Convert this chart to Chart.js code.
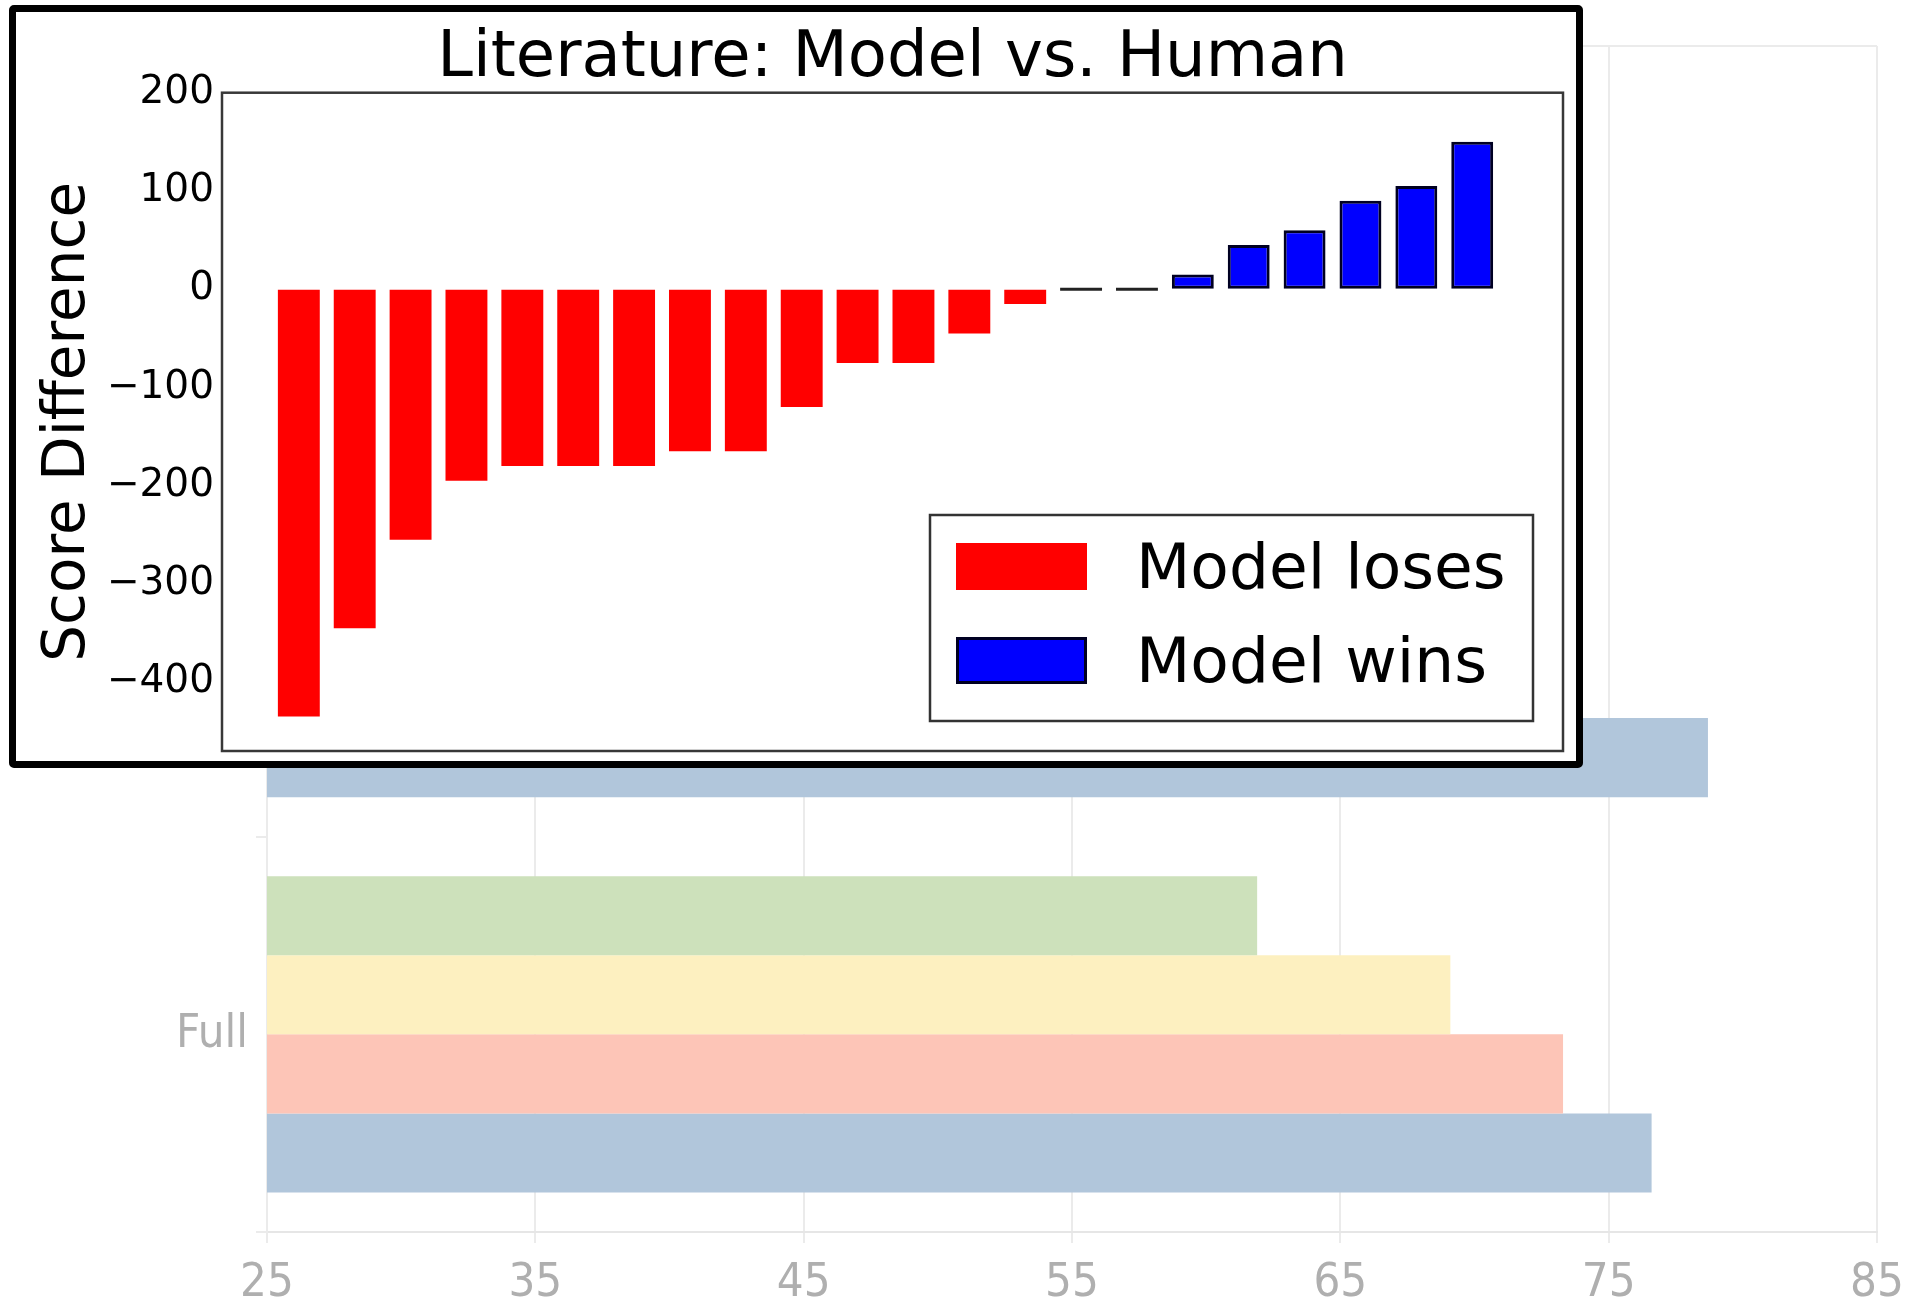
<!DOCTYPE html>
<html>
<head>
<meta charset="utf-8">
<script src="https://cdn.jsdelivr.net/npm/chart.js@4/dist/chart.umd.min.js"></script>
<style>
  html, body { margin: 0; padding: 0; background: #fff; overflow: hidden; }
  #bgWrap { position: absolute; left: 0; top: 0; width: 1913px; height: 1303px; }
  #inset { position: absolute; left: 9px; top: 5px; width: 1574px; height: 763px; box-sizing: border-box;
           border: 7px solid #000; border-radius: 5px; background: #fff; }
  #inset canvas { position: absolute; left: 0; top: 0; }
</style>
</head>
<body>
<div id="bgWrap"><canvas id="bg" width="1913" height="1303"></canvas></div>
<div id="inset"><canvas id="lit" width="1560" height="749"></canvas></div>
<script>
// ---------- Background chart data (horizontal bars) ----------
// The labels and most bars of the first two groups are hidden behind the inset and cannot be read.
const bgCategories = ['', '', 'Full'];
const bgSeriesNames = ['Series 1', 'Series 2', 'Series 3', 'Series 4'];
const bgSeries1 = [null, null, 61.9];   // green
const bgSeries2 = [null, null, 69.1];   // yellow
const bgSeries3 = [null, null, 73.3];   // pink
const bgSeries4 = [null, 78.7, 76.6];   // blue
const bgTickMin = 25, bgTickMax = 85, bgTickStep = 10;

// ---------- Inset chart data ----------
const insetTitle = 'Literature: Model vs. Human';
const insetYLabel = 'Score Difference';
const insetSeriesNames = ['Model loses', 'Model wins'];
const insetValues = [-435, -345, -255, -195, -180, -180, -180, -165, -165, -120, -75, -75, -45, -15,
                     0, 0, 15, 45, 60, 90, 105, 150];
const insetYMin = -470, insetYMax = 200, insetYStep = 100;

// ---------- Background chart ----------
const GRAY_TXT = '#afafaf';
const GRID = '#ebebeb';
const BG_FAMILY = "'Liberation Sans Narrow', 'DejaVu Sans Condensed', Lato, sans-serif";
const bgColors = ['#cde1bb', '#fdf0c0', '#fdc5b7', '#b1c6db'];

const topBorderPlugin = {
  id: 'topBorder',
  beforeDatasetsDraw(chart) {
    const { ctx, chartArea: a } = chart;
    ctx.save();
    ctx.strokeStyle = GRID; ctx.lineWidth = 2;
    ctx.beginPath(); ctx.moveTo(a.left, a.top); ctx.lineTo(a.right, a.top); ctx.stroke();
    ctx.restore();
  }
};

new Chart(document.getElementById('bg'), {
  type: 'bar',
  data: {
    labels: bgCategories,
    datasets: [bgSeries1, bgSeries2, bgSeries3, bgSeries4].map((d, i) => ({
      label: bgSeriesNames[i], data: d, backgroundColor: bgColors[i], borderWidth: 0,
      categoryPercentage: 0.8, barPercentage: 1.0
    }))
  },
  options: {
    indexAxis: 'y', responsive: false, animation: false,
    layout: { padding: { top: 46, right: 36, left: 0, bottom: 0 } },
    plugins: { legend: { display: false }, tooltip: { enabled: false }, title: { display: false } },
    scales: {
      x: {
        type: 'linear', min: bgTickMin, max: bgTickMax,
        ticks: { stepSize: bgTickStep, color: GRAY_TXT, padding: 0, maxRotation: 0,
                 font: { family: BG_FAMILY, size: 47, lineHeight: 1.75 } },
        grid: { color: GRID, lineWidth: 2, tickLength: 11 },
        border: { color: '#e6e6e6', width: 2 },
        afterFit(s) { s.height = 71; }
      },
      y: {
        ticks: { color: GRAY_TXT, padding: 8, font: { family: BG_FAMILY, size: 47, lineHeight: 1.2 } },
        grid: { drawOnChartArea: false, tickLength: 11, color: GRID, lineWidth: 2, offset: true },
        border: { color: GRID, width: 2 },
        afterFit(s) { s.width = 267; }
      }
    }
  },
  plugins: [topBorderPlugin]
});

// ---------- Inset chart ----------
const DJV = "'DejaVu Sans', 'Bitstream Vera Sans', sans-serif";
const BAR_W = 0.75; // bar width in index units (bars start at integer positions)
const losesPts = [], winsPts = [];
insetValues.forEach((v, i) => {
  const p = { x: i + BAR_W / 2, y: v };
  if (v < 0) losesPts.push(p); else winsPts.push(p);
});

const framePlugin = {
  id: 'frameAndLegend',
  afterDatasetsDraw(chart) {
    const { ctx } = chart;
    // zero-height bars are shown as their edge line at 0
    chart.data.datasets.forEach((ds, di) => {
      if (!ds.borderWidth) return;
      const meta = chart.getDatasetMeta(di);
      meta.data.forEach((el, j) => {
        if (ds.data[j].y === 0) {
          const p = el.getProps(['x', 'y', 'width'], true);
          ctx.save();
          ctx.strokeStyle = '#222'; ctx.lineWidth = 3;
          ctx.beginPath(); ctx.moveTo(p.x - p.width / 2, p.y); ctx.lineTo(p.x + p.width / 2, p.y); ctx.stroke();
          ctx.restore();
        }
      });
    });
  },
  afterDraw(chart) {
    const { ctx, chartArea: a } = chart;
    ctx.save();
    ctx.strokeStyle = '#383838'; ctx.lineWidth = 2.5;
    ctx.strokeRect(a.left, a.top, a.right - a.left, a.bottom - a.top);
    // legend box (lower right)
    const w = 603, h = 206;
    const x0 = a.right - 30 - w, y0 = a.bottom - 30 - h;
    ctx.fillStyle = '#fff'; ctx.fillRect(x0, y0, w, h);
    ctx.strokeStyle = '#333'; ctx.lineWidth = 2.5; ctx.strokeRect(x0, y0, w, h);
    chart.data.datasets.forEach((ds, i) => {
      const sy = y0 + 28 + i * 94;
      ctx.fillStyle = ds.backgroundColor; ctx.fillRect(x0 + 26, sy, 131, 47);
      if (ds.borderWidth) {
        ctx.strokeStyle = ds.borderColor; ctx.lineWidth = 3;
        ctx.strokeRect(x0 + 27.5, sy + 1.5, 128, 44);
      }
      ctx.fillStyle = '#000'; ctx.font = '63px ' + DJV; ctx.textBaseline = 'alphabetic'; ctx.textAlign = 'left';
      ctx.fillText(ds.label, x0 + 206, sy + 45);
    });
    ctx.restore();
  }
};

new Chart(document.getElementById('lit'), {
  type: 'bar',
  data: {
    datasets: [
      { label: insetSeriesNames[0], data: losesPts, backgroundColor: '#ff0000', borderWidth: 0,
        grouped: false, categoryPercentage: 1, barPercentage: BAR_W },
      { label: insetSeriesNames[1], data: winsPts, backgroundColor: '#0000ff', borderColor: '#000022', borderWidth: 3,
        borderSkipped: false, grouped: false, categoryPercentage: 1, barPercentage: BAR_W }
    ]
  },
  options: {
    responsive: false, animation: false,
    layout: { padding: { top: 0, right: 13, left: 0, bottom: 10 } },
    plugins: {
      legend: { display: false }, tooltip: { enabled: false },
      title: { display: true, text: insetTitle, fullSize: false, color: '#000',
               font: { family: DJV, size: 64, weight: 'normal', lineHeight: 1 },
               padding: { top: 15.2, bottom: 1.5 } }
    },
    scales: {
      x: { type: 'linear', min: -1, max: 23, offset: false, display: false },
      y: {
        type: 'linear', min: insetYMin, max: insetYMax,
        ticks: { stepSize: insetYStep, includeBounds: false, color: '#000', padding: 0,
                 font: { family: DJV, size: 39, lineHeight: 0.5 },
                 callback: (v) => String(v).replace('-', '\u2212') },
        afterBuildTicks(s) { s.ticks = s.ticks.filter(t => t.value % insetYStep === 0); },
        grid: { display: true, drawOnChartArea: false, drawTicks: true, tickLength: 8, color: 'rgba(0,0,0,0)' },
        border: { display: false },
        title: { display: true, text: insetYLabel, color: '#000',
                 font: { family: DJV, size: 58, lineHeight: 1 }, padding: { top: 24, bottom: 0 } },
        afterFit(s) { s.width = 206; }
      }
    }
  },
  plugins: [framePlugin]
});
</script>
</body>
</html>
